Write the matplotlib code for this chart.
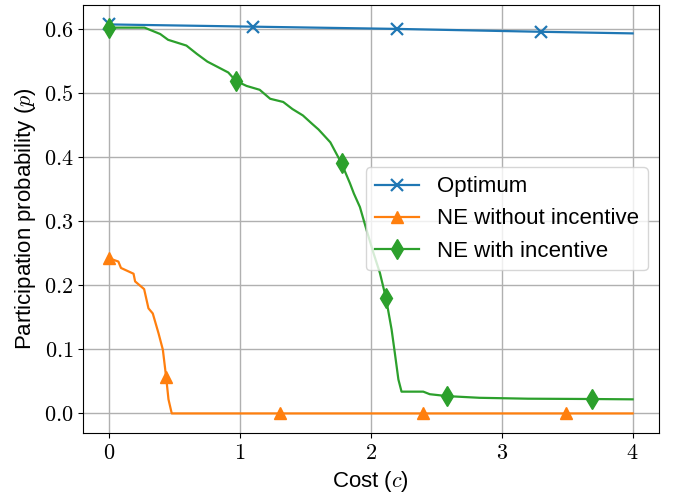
import matplotlib
matplotlib.use("Agg")
import matplotlib.pyplot as plt
from matplotlib.ticker import FuncFormatter

plt.rcParams['font.family'] = ['Liberation Sans', 'DejaVu Sans']
plt.rcParams['mathtext.fontset'] = 'cm'

# Optimum
opt_x = [0.0, 1.1, 2.2, 3.3, 4.0]
opt_p = [0.607, 0.6035, 0.600, 0.5955, 0.593]
opt_marks = [0, 1, 2, 3]

# NE without incentive
ne_x = [0.0, 0.07, 0.09, 0.186, 0.198, 0.267, 0.30, 0.333, 0.377, 0.41, 0.435,
        0.453, 0.478, 1.305, 2.397, 3.49, 4.0]
ne_p = [0.242, 0.237, 0.227, 0.218, 0.206, 0.194, 0.164, 0.156, 0.125, 0.0995, 0.057,
        0.022, 0.0, 0.0, 0.0, 0.0, 0.0]
ne_marks = [0, 10, 13, 14, 15]

# NE with incentive
nei_x = [0.0, 0.27, 0.33, 0.39, 0.45, 0.59, 0.67, 0.75, 0.91, 0.967, 1.05, 1.15,
         1.23, 1.33, 1.40, 1.48, 1.55, 1.60, 1.69, 1.776, 1.84, 1.87, 1.916, 1.967,
         2.02, 2.069, 2.115, 2.158, 2.183, 2.21, 2.234, 2.40, 2.45, 2.585, 2.83,
         3.2, 3.687, 4.0]
nei_p = [0.602, 0.602, 0.597, 0.592, 0.583, 0.574, 0.561, 0.549, 0.532, 0.519, 0.511,
         0.505, 0.491, 0.486, 0.475, 0.465, 0.452, 0.443, 0.423, 0.390, 0.359, 0.343,
         0.322, 0.286, 0.250, 0.219, 0.180, 0.131, 0.094, 0.053, 0.034, 0.034, 0.030,
         0.027, 0.0244, 0.023, 0.0225, 0.022]
nei_marks = [0, 9, 19, 26, 33, 36]

fig = plt.figure(figsize=(6.75, 4.97), dpi=100)
ax = fig.add_axes([0.123, 0.129, 0.853, 0.861])

ax.plot(opt_x, opt_p, color='#1f77b4', lw=1.6, marker='x', ms=9, mew=1.6,
        markevery=opt_marks, label='Optimum')
ax.plot(ne_x, ne_p, color='#ff7f0e', lw=1.6, marker='^', ms=9,
        markevery=ne_marks, label='NE without incentive')
ax.plot(nei_x, nei_p, color='#2ca02c', lw=1.6, marker='d', ms=10,
        markevery=nei_marks, label='NE with incentive')

ax.grid(True, color='#b0b0b0', lw=1.0)
ax.set_axisbelow(True)
ax.set_xticks([0, 1, 2, 3, 4])
ax.set_yticks([0.0, 0.1, 0.2, 0.3, 0.4, 0.5, 0.6])
ax.xaxis.set_major_formatter(FuncFormatter(lambda v, _: f'${v:.0f}$'))
ax.yaxis.set_major_formatter(FuncFormatter(lambda v, _: f'${v:.1f}$'))
ax.tick_params(labelsize=16)
ax.set_xlabel('Cost ($c$)', fontsize=16)
ax.set_ylabel('Participation probability ($p$)', fontsize=16)
ax.legend(loc='center right', fontsize=16)

fig.savefig('out.png', dpi=100)
